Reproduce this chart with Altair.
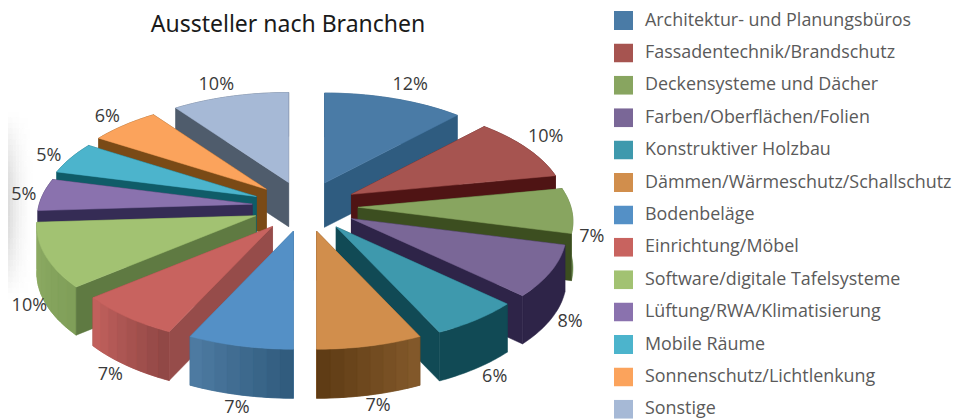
import math
import altair as alt
import pandas as pd

# ---- chart values -------------------------------------------------------
categories = [
    "Architektur- und Planungsbüros", "Fassadentechnik/Brandschutz",
    "Deckensysteme und Dächer", "Farben/Oberflächen/Folien",
    "Konstruktiver Holzbau", "Dämmen/Wärmeschutz/Schallschutz",
    "Bodenbeläge", "Einrichtung/Möbel", "Software/digitale Tafelsysteme",
    "Lüftung/RWA/Klimatisierung", "Mobile Räume",
    "Sonnenschutz/Lichtlenkung", "Sonstige",
]
shares = [12, 10, 7, 8, 6, 7, 7, 7, 10, 5, 5, 6, 10]

# ---- styles ---------------------------------------------------------------
top_colors = ["#4a7ba6", "#a65450", "#88a560", "#7a6797", "#3e99ad", "#d18e4c", "#5490c6",
              "#c8635f", "#a2c272", "#8a72ae", "#4cb4cc", "#fba35c", "#a6b9d6"]
side_colors = ["#2f5c80", "#4f1414", "#3c4e20", "#2e2448", "#114a55", "#7a4e20", "#3f6c92",
               "#964c4a", "#5f7a42", "#352c55", "#0f5c68", "#7a4a16", "#4f5c6c"]
rim_from = ["#2f5c80", "#4f1414", "#5d7c3f", "#2e2448", "#114a55", "#855a2c", "#2f5a7c",
            "#8e4644", "#7f9e58", "#352c55", "#0f5c68", "#7a4a16", "#4f5c6c"]
rim_to = ["#2f5c80", "#4f1414", "#5d7c3f", "#2e2448", "#114a55", "#5c3a13", "#4f7ca3",
          "#c4625e", "#8fae66", "#352c55", "#0f5c68", "#7a4a16", "#4f5c6c"]
label_nudge = [(15, -14), (18, -11), (19, 26), (18, 51), (17, 57), (7, 60), (-4, 62),
               (-17, 58), (-19, 51), (-20, 0), (-23, -2), (-18, -8), (-15, -11)]
stretch_end = {8: 0.02}    # the big green slice reaches a little further left

CX, CY = 305, 206.5        # pie centre
EA, EB = 53, 25.2          # explode distance
RA, RB = 213, 102.2        # radius
PERSP = 0.135              # perspective


def lerp_color(a, b, t):
    pa = [int(a[i:i + 2], 16) for i in (1, 3, 5)]
    pb = [int(b[i:i + 2], 16) for i in (1, 3, 5)]
    return "#%02x%02x%02x" % tuple(round(x + (y - x) * t) for x, y in zip(pa, pb))


def uv(deg):
    r = math.radians(deg)
    return math.sin(r), -math.cos(r)


def disc(tip, deg, k=1.0):
    u, v = uv(deg)
    p = 1 / (1 - PERSP * v)
    return (tip[0] + k * RA * u * p, tip[1] + RB * v * p)


def depth(v):
    return 46.5 + 2.5 * v


def feature(points, key):
    ring = [list(p) for p in points] + [list(points[0])]
    return {"type": "Feature", "properties": {"key": key},
            "geometry": {"type": "Polygon", "coordinates": [ring]}}


features = []

# soft grey shadow on the left edge of the page
for i in range(10):
    x0 = 8 + i * 2.8
    for j in range(34):
        y0 = 112 + j * 5.5
        env = math.sin(math.pi * (j + 0.5) / 34) ** 1.1
        fade = (1 - (i + 0.5) / 10) ** 2
        g = round(255 - 38 * env * fade)
        key = "#%02x%02x%02x" % (g, g, g)
        features.append(feature([(x0, y0), (x0 + 2.8, y0), (x0 + 2.8, y0 + 5.5), (x0, y0 + 5.5)], key))

# slices
edges = [0]
for s in shares:
    edges.append(edges[-1] + s * 3.6)
order = [0, 1, 2, 3, 4, 5, 12, 11, 10, 9, 8, 7, 6]
for i in order:
    a0, a1 = edges[i], edges[i + 1]
    mid = (a0 + a1) / 2
    mu, mv = uv(mid)
    tip = (CX + EA * mu, CY + EB * mv)
    tip_low = (tip[0], tip[1] + depth(mv))
    n = 24
    angs = [a0 + (a1 - a0) * k / n for k in range(n + 1)]
    grow = stretch_end.get(i, 0)
    rim = [disc(tip, a, 1 + grow * k / n) for k, a in enumerate(angs)]
    rim_low = [(p[0], p[1] + depth(uv(a)[1])) for p, a in zip(rim, angs)]
    wall_start = feature([tip, rim[0], rim_low[0], tip_low], side_colors[i])
    wall_end = feature([tip, rim[-1], rim_low[-1], tip_low], side_colors[i])
    # hidden radial wall first, then the outer wall, then the visible radial wall
    features.append(wall_start if mid < 180 else wall_end)
    # one whole outer wall underneath, so no seams can show through
    base = lerp_color(rim_from[i], rim_to[i], 0.5)
    features.append(feature(rim + rim_low[::-1], base))
    if rim_from[i] != rim_to[i]:
        steps = 8
        for k in range(steps):
            lo, hi = k * n // steps, (k + 1) * n // steps
            features.append(feature(rim[lo:hi + 1] + rim_low[lo:hi + 1][::-1],
                                    lerp_color(rim_from[i], rim_to[i], (k + 0.5) / steps)))
    features.append(wall_end if mid < 180 else wall_start)
    # top face
    features.append(feature([tip] + rim, categories[i]))

labels = []
for i, s in enumerate(shares):
    mid = (edges[i] + edges[i + 1]) / 2
    mu, mv = uv(mid)
    tip = (CX + EA * mu, CY + EB * mv)
    p = disc(tip, mid)
    labels.append({"x": p[0] + label_nudge[i][0] + 1, "y": p[1] + label_nudge[i][1], "t": f"{s}%"})

extra = sorted({f["properties"]["key"] for f in features} - set(categories))
domain = categories + extra
rng = top_colors + extra
scale = alt.Scale(domain=domain, range=rng)

W, H = 950, 412
shapes = alt.Chart(alt.Data(values=features)).mark_geoshape(filled=True, strokeWidth=0.5).encode(
    color=alt.Color("properties.key:N", scale=scale, legend=alt.Legend(
        values=categories, title=None, orient="none", legendX=606, legendY=3,
        symbolType="square", symbolSize=361, symbolStrokeWidth=0, symbolOpacity=1,
        rowPadding=13.4, labelFontSize=17.9, labelFont="Open Sans", labelColor="#5a5a5a",
        labelOffset=12, labelLimit=340, padding=0, columns=1, clipHeight=19)),
    stroke=alt.Stroke("properties.key:N", scale=scale, legend=None),
).project(type="identity", scale=1, translate=[-8, -8])

xs = alt.Scale(domain=[8, 958], range=[0, W])
ys = alt.Scale(domain=[8, 420], range=[0, H])
pct = alt.Chart(pd.DataFrame(labels)).mark_text(
    font="Open Sans", fontSize=18, color="#3a3a3a", align="center", baseline="middle"
).encode(x=alt.X("x:Q", scale=xs, axis=None), y=alt.Y("y:Q", scale=ys, axis=None), text="t:N")
title = alt.Chart(pd.DataFrame({"x": [288], "y": [25], "t": ["Aussteller nach Branchen"]})).mark_text(
    font="Noto Sans", fontSize=23, fontWeight=400, color="#1a1a1a", align="center", baseline="middle"
).encode(x=alt.X("x:Q", scale=xs, axis=None), y=alt.Y("y:Q", scale=ys, axis=None), text="t:N")

chart = alt.layer(shapes, pct, title).properties(
    width=W, height=H, padding=0, autosize=alt.AutoSizeParams(type="none")
).configure_view(stroke=None)

chart.save("out.html", embed_options={"renderer": "svg", "actions": False})
